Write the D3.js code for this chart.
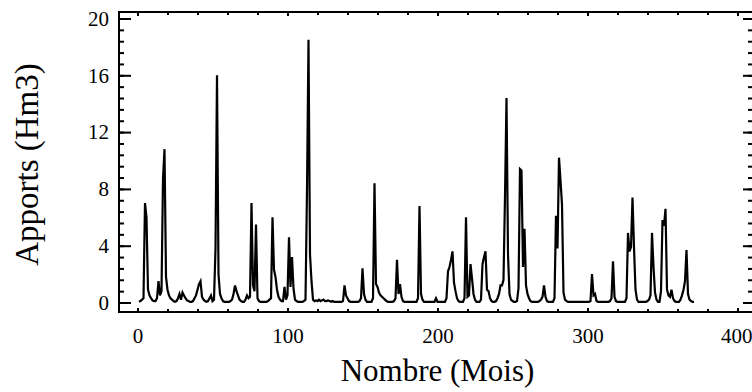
<!DOCTYPE html>
<html>
<head>
<meta charset="utf-8">
<script src="https://cdn.jsdelivr.net/npm/d3@7"></script>
<style>
body { margin: 0; background: #fff; }
svg { display: block; }
</style>
</head>
<body>
<div id="chart"></div>
<script>
// apports mensuels (Hm3), mois 1 .. 371
var apports = [
  0.05, 0.1, 0.2, 0.3, 7.0, 6.0, 0.9, 0.5, 0.3, 0.15,
  0.1, 0.1, 0.3, 1.5, 0.5, 0.8, 8.7, 10.8, 1.8, 0.9,
  0.5, 0.3, 0.2, 0.1, 0.05, 0.1, 0.3, 0.6, 0.2, 0.7,
  0.5, 0.3, 0.15, 0.1, 0.05, 0.05, 0.1, 0.3, 0.5, 0.9,
  1.3, 1.5, 0.4, 0.2, 0.1, 0.05, 0.1, 0.3, 0.5, 0.1,
  0.2, 3.8, 16.0, 2.0, 0.6, 0.3, 0.1, 0.05, 0.05, 0.05,
  0.05, 0.1, 0.2, 0.6, 1.2, 0.8, 0.5, 0.2, 0.1, 0.05,
  0.05, 0.2, 0.5, 0.3, 0.4, 7.0, 1.2, 0.8, 5.5, 0.3,
  0.1, 0.05, 0.05, 0.05, 0.05, 0.05, 0.1, 0.2, 0.3, 6.0,
  2.3, 1.8, 0.9, 0.4, 0.2, 0.1, 0.1, 1.1, 0.2, 0.5,
  4.6, 1.1, 3.2, 1.0, 0.2, 0.1, 0.05, 0.05, 0.05, 0.05,
  0.1, 0.2, 7.9, 18.5, 3.4, 1.5, 0.2, 0.1, 0.15, 0.1,
  0.2, 0.1, 0.15, 0.2, 0.1, 0.1, 0.15, 0.1, 0.05, 0.1,
  0.05, 0.05, 0.05, 0.05, 0.05, 0.05, 0.1, 1.2, 0.5, 0.3,
  0.1, 0.05, 0.05, 0.05, 0.05, 0.05, 0.05, 0.1, 0.3, 2.4,
  0.6, 0.2, 0.05, 0.05, 0.05, 0.05, 0.3, 8.4, 1.3, 1.1,
  0.7, 0.5, 0.4, 0.3, 0.2, 0.1, 0.05, 0.05, 0.05, 0.05,
  0.1, 0.3, 3.0, 0.6, 1.3, 0.4, 0.1, 0.05, 0.05, 0.05,
  0.05, 0.05, 0.05, 0.05, 0.05, 0.05, 0.3, 6.8, 0.6, 0.2,
  0.05, 0.05, 0.05, 0.05, 0.05, 0.05, 0.05, 0.05, 0.3, 0.05,
  0.05, 0.05, 0.05, 0.05, 0.05, 0.3, 2.2, 2.5, 3.0, 3.6,
  1.4, 0.8, 0.3, 0.1, 0.05, 0.05, 0.05, 0.3, 6.0, 0.4,
  0.5, 2.7, 1.7, 0.6, 0.2, 0.05, 0.05, 0.05, 0.2, 2.7,
  3.2, 3.6, 0.9, 0.8, 0.3, 0.1, 0.05, 0.05, 0.1, 0.3,
  0.6, 1.2, 1.2, 1.6, 7.5, 14.4, 3.4, 0.6, 0.2, 0.1,
  0.05, 0.05, 0.1, 1.0, 9.4, 9.3, 2.5, 5.2, 1.2, 0.6,
  0.3, 0.1, 0.05, 0.05, 0.05, 0.05, 0.05, 0.1, 0.2, 0.4,
  1.2, 0.4, 0.1, 0.05, 0.05, 0.05, 0.05, 0.3, 6.1, 3.8,
  10.2, 8.6, 6.9, 0.7, 0.2, 0.1, 0.05, 0.05, 0.05, 0.05,
  0.05, 0.05, 0.05, 0.05, 0.05, 0.05, 0.05, 0.05, 0.05, 0.05,
  0.05, 0.1, 2.0, 0.5, 0.6, 0.1, 0.05, 0.05, 0.05, 0.05,
  0.05, 0.05, 0.05, 0.05, 0.1, 0.3, 2.9, 0.4, 0.1, 0.05,
  0.05, 0.05, 0.05, 0.05, 0.05, 0.3, 4.9, 3.6, 3.9, 7.4,
  3.9, 0.9, 0.2, 0.05, 0.05, 0.05, 0.05, 0.05, 0.05, 0.1,
  0.2, 0.5, 4.9, 2.5, 0.7, 0.2, 0.05, 0.05, 0.8, 5.8,
  5.4, 6.6, 0.9, 0.5, 0.4, 0.9, 0.3, 0.1, 0.05, 0.05,
  0.05, 0.2, 0.5, 0.9, 1.5, 3.7, 0.6, 0.2, 0.1, 0.05, 0.05
];
var mois = apports.map(function (v, i) { return i + 1; });

var xTicks = [0, 100, 200, 300, 400];
var yTicks = [0, 4, 8, 12, 16, 20];

(function () {
var xMinor = d3.range(0, 401, 20);
var yMinor = d3.range(0, 20.01, 0.8);

var w = 752, h = 392;
var x0 = 119, x1 = 753, y0 = 12, y1 = 312;
var font = "'Liberation Serif', 'Times New Roman', serif";

var svg = d3.select("#chart").append("svg").attr("width", w).attr("height", h);

var x = d3.scaleLinear().domain([0, 400]).range([137.5, 737.5]);
var y = d3.scaleLinear().domain([0, 20]).range([302.5, 18.5]);

// petites graduations
svg.append("g").attr("transform", "translate(0," + y1 + ")")
  .call(d3.axisBottom(x).tickValues(xMinor).tickSize(-3).tickFormat(""));
svg.append("g").attr("transform", "translate(0," + y0 + ")")
  .call(d3.axisTop(x).tickValues(xMinor).tickSize(-3).tickFormat(""));
svg.append("g").attr("transform", "translate(" + x0 + ",0)")
  .call(d3.axisLeft(y).tickValues(yMinor).tickSize(-5).tickFormat(""));
svg.append("g").attr("transform", "translate(" + x1 + ",0)")
  .call(d3.axisRight(y).tickValues(yMinor).tickSize(-5).tickFormat(""));

// graduations principales + labels
var gx = svg.append("g").attr("transform", "translate(0," + y1 + ")")
  .call(d3.axisBottom(x).tickValues(xTicks).tickSize(-4).tickPadding(16).tickFormat(d3.format("d")));
svg.append("g").attr("transform", "translate(0," + y0 + ")")
  .call(d3.axisTop(x).tickValues(xTicks).tickSize(-4).tickFormat(""));
svg.append("g").attr("transform", "translate(" + x0 + ",0)")
  .call(d3.axisLeft(y).tickValues(yTicks).tickSize(-12).tickPadding(10).tickFormat(d3.format("d")));
svg.append("g").attr("transform", "translate(" + x1 + ",0)")
  .call(d3.axisRight(y).tickValues(yTicks).tickSize(-10).tickFormat(""));

svg.selectAll(".domain").remove();
svg.selectAll(".tick line").attr("stroke", "#000").attr("stroke-width", 2);
svg.selectAll(".tick text").attr("fill", "#000")
  .attr("font-family", font).attr("font-size", "21px");

// le "400" touche le bord droit
gx.selectAll(".tick text").filter(function (d) { return d === 400; })
  .attr("text-anchor", "end").attr("x", w - x(400));

// cadre
svg.append("rect")
  .attr("x", x0).attr("y", y0)
  .attr("width", x1 - x0).attr("height", y1 - y0)
  .attr("fill", "none").attr("stroke", "#000").attr("stroke-width", 2);

// courbe
var line = d3.line()
  .x(function (d, i) { return x(mois[i]); })
  .y(function (d) { return y(d); });

svg.append("path")
  .datum(apports)
  .attr("d", line)
  .attr("fill", "none")
  .attr("stroke", "#000")
  .attr("stroke-width", 2.2);

// titres
svg.append("text")
  .attr("x", x(200)).attr("y", 381)
  .attr("text-anchor", "middle")
  .attr("font-family", font).attr("font-size", "31px")
  .text("Nombre (Mois)");

svg.append("text")
  .attr("transform", "translate(38,164.5) rotate(-90)")
  .attr("text-anchor", "middle")
  .attr("font-family", font).attr("font-size", "33px")
  .text("Apports (Hm3)");
})();
</script>
</body>
</html>
